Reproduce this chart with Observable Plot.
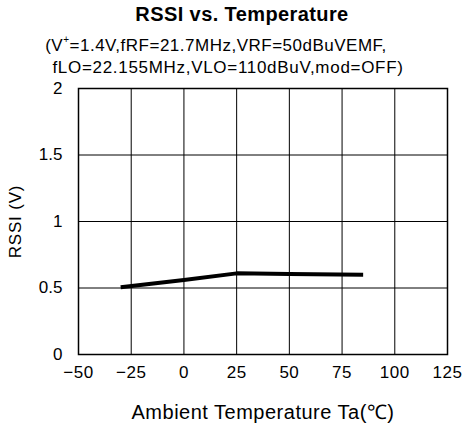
<!DOCTYPE html>
<html><head><meta charset="utf-8">
<script src="https://cdn.jsdelivr.net/npm/d3@7"></script>
<script src="https://cdn.jsdelivr.net/npm/@observablehq/plot@0.6"></script>
<style>
body{margin:0;background:#fff;font-family:"Liberation Sans",Arial,sans-serif;color:#000;width:464px;height:426px;overflow:hidden}
#hdr{position:relative;height:78px}
.t{position:absolute;left:0;white-space:nowrap;transform:translateX(-50%)}
</style></head>
<body>
<div id="hdr">
<div class="t" style="left:242px;top:3px;font-size:20px;font-weight:bold;letter-spacing:0.4px">RSSI vs. Temperature</div>
<div class="t" style="left:216px;top:36px;font-size:17px;letter-spacing:0.5px">(V<sup style="font-size:10px;vertical-align:8px;line-height:0">+</sup>=1.4V,fRF=21.7MHz,VRF=50dBuVEMF,</div>
<div class="t" style="left:228px;top:58px;font-size:17px;letter-spacing:0.7px">fLO=22.155MHz,VLO=110dBuV,mod=OFF)</div>
</div>
<div id="chart"></div>
<script>
const temps = [-30, 0, 25, 50, 85];
const rssi = [0.505, 0.56, 0.61, 0.605, 0.6];
const xTicks = [-50, -25, 0, 25, 50, 75, 100, 125];
const yTicks = [0, 0.5, 1, 1.5, 2];

const data = temps.map((t, i) => ({t, v: rssi[i]}));

const chart = Plot.plot({
  width: 464,
  height: 348,
  marginTop: 10,
  marginBottom: 72,
  marginLeft: 78,
  marginRight: 17,
  style: {fontFamily: "Liberation Sans, Arial, sans-serif", fontSize: "17px", color: "#000", background: "#fff"},
  x: {domain: [-50, 125], ticks: xTicks, tickSize: 0, tickPadding: 11, tickFormat: d => d < 0 ? "\u2212" + Math.abs(d) : String(d), label: "Ambient Temperature Ta(\u2103)", labelAnchor: "center", labelArrow: "none", labelOffset: 64},
  y: {domain: [0, 2], ticks: yTicks, tickSize: 0, tickPadding: 16, tickFormat: d => String(d), label: "RSSI (V)", labelAnchor: "center", labelArrow: "none", labelOffset: 70},
  marks: [
    Plot.gridX(xTicks, {stroke: "#000", strokeOpacity: 1, strokeWidth: 1}),
    Plot.gridY(yTicks, {stroke: "#000", strokeOpacity: 1, strokeWidth: 1}),
    Plot.frame({stroke: "#000", strokeWidth: 1.5}),
    Plot.line(data, {x: "t", y: "v", stroke: "#000", strokeWidth: 4, strokeLinecap: "butt"})
  ]
});
document.getElementById("chart").appendChild(chart);
chart.querySelectorAll('[aria-label="x-axis tick label"] text').forEach(t => t.style.letterSpacing = "0.5px");
chart.querySelectorAll('[aria-label="x-axis label"] text').forEach(t => { t.style.fontSize = "20px"; t.style.letterSpacing = "0.5px"; });
chart.querySelectorAll('[aria-label="y-axis label"] text').forEach(t => { t.style.fontSize = "17px"; t.style.letterSpacing = "0.8px"; });
</script>
</body></html>
